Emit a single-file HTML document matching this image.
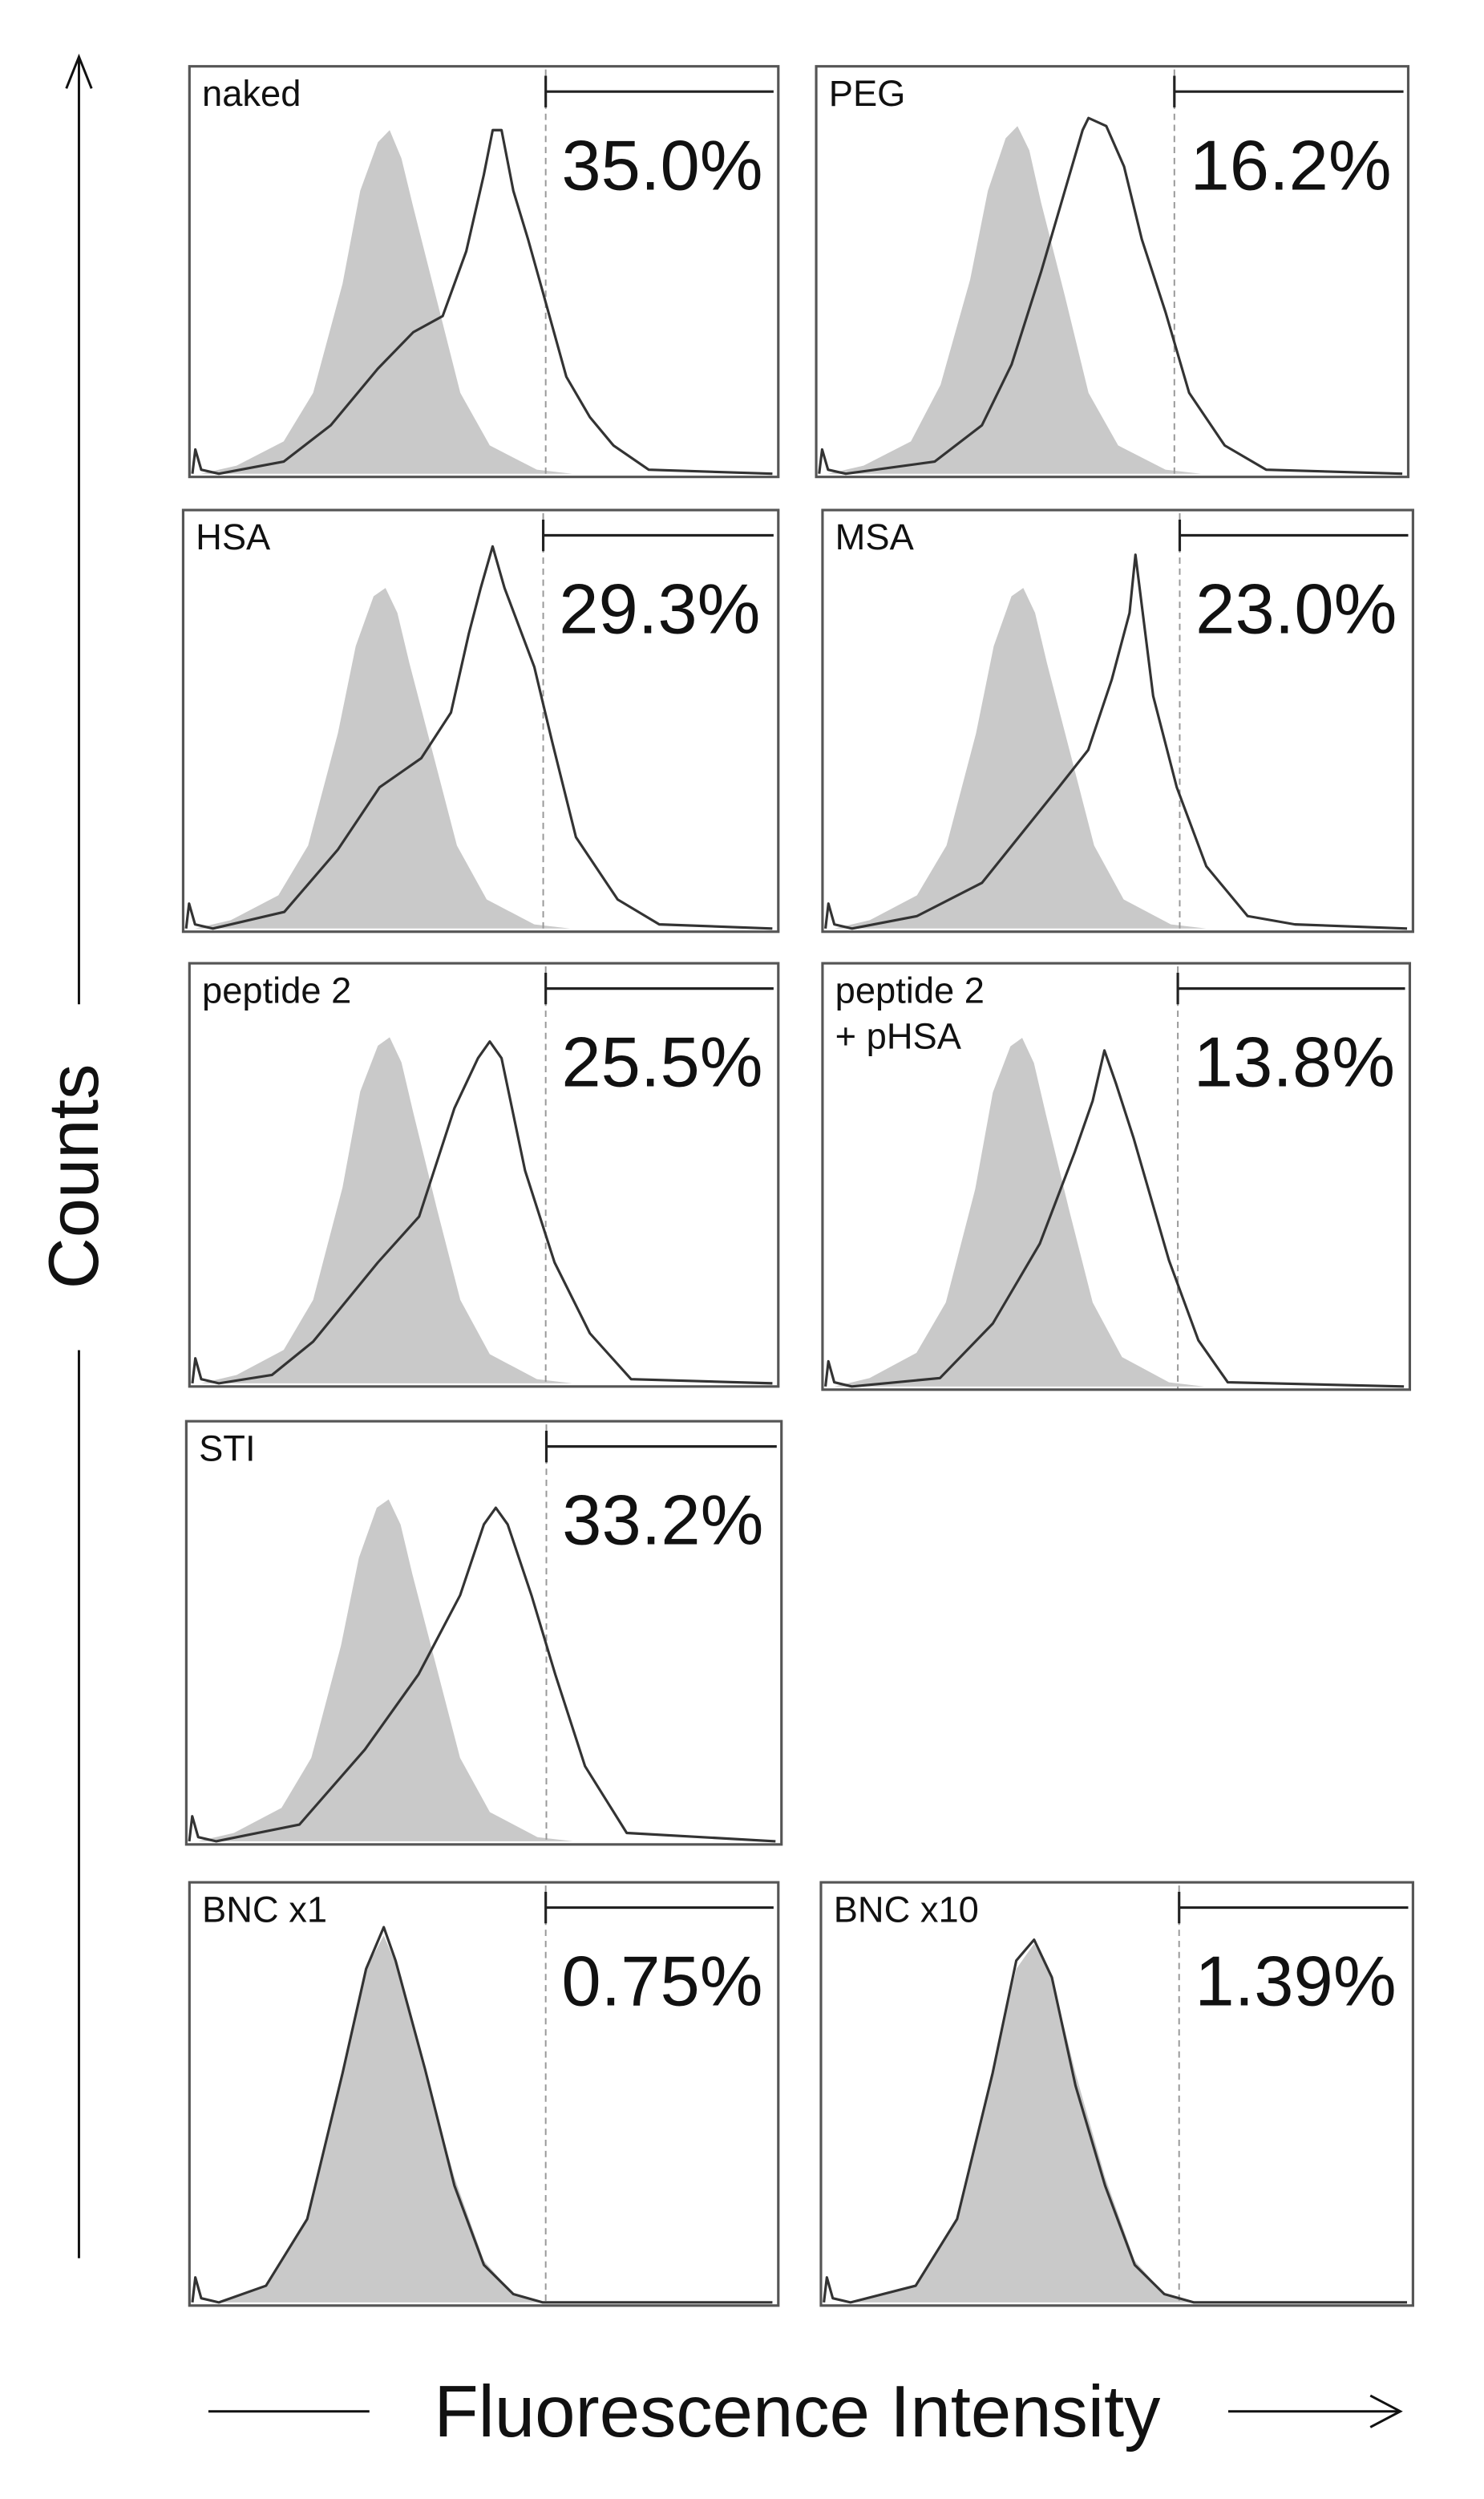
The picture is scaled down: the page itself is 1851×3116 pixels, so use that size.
<!DOCTYPE html>
<html><head><meta charset="utf-8"><style>
html,body{margin:0;padding:0;background:#fff;}
svg{display:block;font-family:"Liberation Sans",Arial,sans-serif;}
</style></head><body>
<svg id="fig" width="1851" height="3116" viewBox="0 0 940 1582.5" preserveAspectRatio="none" xmlns="http://www.w3.org/2000/svg">
<g>
<line x1="50" y1="36" x2="50" y2="636" stroke="#111" stroke-width="1.5"/>
<polyline points="42,56 50,36 58,56" fill="none" stroke="#111" stroke-width="1.5"/>
<line x1="50" y1="855" x2="50" y2="1430" stroke="#111" stroke-width="1.5"/>
<text transform="translate(62,745) rotate(-90)" text-anchor="middle" font-size="45" fill="#111">Counts</text>
</g>
<g>
<line x1="132" y1="1527" x2="234" y2="1527" stroke="#111" stroke-width="1.5"/>
<line x1="778" y1="1527" x2="886" y2="1527" stroke="#111" stroke-width="1.5"/>
<polyline points="868,1517 887,1527 868,1537" fill="none" stroke="#111" stroke-width="1.5"/>
<text x="505" y="1543" text-anchor="middle" font-size="46" fill="#111">Fluorescence Intensity</text>
</g>
</svg>
<script>
// Panel labels and gate percentages
const panelNames = ["naked","PEG","HSA","MSA","peptide 2","peptide 2|+ pHSA","STI","BNC x1","BNC x10"];
const gatePercents = ["35.0%","16.2%","29.3%","23.0%","25.5%","13.8%","33.2%","0.75%","1.39%"];
const gateThreshold = 0.605;
// Control histograms (gray fill): [fluorescence fraction, count fraction]
const controlNaked = [[0.02,0],[0.08,0.02],[0.16,0.08],[0.21,0.2],[0.26,0.47],[0.29,0.7],[0.32,0.82],[0.34,0.85],[0.36,0.78],[0.38,0.66],[0.42,0.43],[0.46,0.2],[0.51,0.07],[0.59,0.01],[0.65,0]];
const controlPEG = [[0.02,0],[0.08,0.02],[0.16,0.08],[0.21,0.22],[0.26,0.48],[0.29,0.7],[0.32,0.83],[0.34,0.86],[0.36,0.8],[0.38,0.67],[0.42,0.44],[0.46,0.2],[0.51,0.07],[0.59,0.01],[0.65,0]];
const controlHSA = [[0.02,0],[0.08,0.02],[0.16,0.08],[0.21,0.2],[0.26,0.47],[0.29,0.68],[0.32,0.8],[0.34,0.82],[0.36,0.76],[0.38,0.64],[0.42,0.42],[0.46,0.2],[0.51,0.07],[0.59,0.01],[0.65,0]];
const controlMSA = controlHSA;
const controlPep = [[0.02,0],[0.08,0.02],[0.16,0.08],[0.21,0.2],[0.26,0.47],[0.29,0.7],[0.32,0.81],[0.34,0.83],[0.36,0.77],[0.38,0.65],[0.42,0.42],[0.46,0.2],[0.51,0.07],[0.59,0.01],[0.65,0]];
const controlPepHSA = controlPep;
const controlSTI = controlHSA;
const controlBNC1 = [[0.05,0],[0.13,0.04],[0.2,0.2],[0.26,0.55],[0.3,0.8],[0.33,0.88],[0.36,0.78],[0.4,0.55],[0.45,0.3],[0.5,0.1],[0.55,0.02],[0.6,0]];
const controlBNC10 = [[0.05,0],[0.16,0.04],[0.23,0.2],[0.29,0.55],[0.33,0.8],[0.36,0.86],[0.39,0.78],[0.43,0.55],[0.48,0.3],[0.53,0.1],[0.58,0.02],[0.63,0]];
// Sample histograms (open line)
const sampleNaked = [[0.05,0],[0.16,0.03],[0.24,0.12],[0.32,0.26],[0.38,0.35],[0.43,0.39],[0.47,0.55],[0.5,0.74],[0.515,0.85],[0.53,0.85],[0.55,0.7],[0.575,0.58],[0.6,0.45],[0.64,0.24],[0.68,0.14],[0.72,0.07],[0.78,0.01],[0.99,0]];
const samplePEG = [[0.05,0],[0.2,0.03],[0.28,0.12],[0.33,0.27],[0.38,0.5],[0.42,0.7],[0.45,0.85],[0.46,0.88],[0.49,0.86],[0.52,0.76],[0.55,0.58],[0.59,0.4],[0.63,0.2],[0.69,0.07],[0.76,0.01],[0.99,0]];
const sampleHSA = [[0.05,0],[0.17,0.04],[0.26,0.19],[0.33,0.34],[0.4,0.41],[0.45,0.52],[0.48,0.71],[0.5,0.82],[0.52,0.92],[0.54,0.82],[0.59,0.63],[0.62,0.45],[0.66,0.22],[0.73,0.07],[0.8,0.01],[0.99,0]];
const sampleMSA = [[0.05,0],[0.16,0.03],[0.27,0.11],[0.4,0.34],[0.45,0.43],[0.49,0.6],[0.52,0.76],[0.53,0.9],[0.56,0.56],[0.6,0.34],[0.65,0.15],[0.72,0.03],[0.8,0.01],[0.99,0]];
const samplePep = [[0.05,0],[0.14,0.02],[0.21,0.1],[0.32,0.29],[0.39,0.4],[0.45,0.66],[0.49,0.78],[0.51,0.82],[0.53,0.78],[0.57,0.51],[0.62,0.29],[0.68,0.12],[0.75,0.01],[0.99,0]];
const samplePepHSA = [[0.05,0],[0.2,0.02],[0.29,0.15],[0.37,0.34],[0.43,0.56],[0.46,0.68],[0.48,0.8],[0.5,0.72],[0.53,0.59],[0.59,0.3],[0.64,0.11],[0.69,0.01],[0.99,0]];
const sampleSTI = [[0.05,0],[0.19,0.04],[0.3,0.22],[0.39,0.4],[0.46,0.59],[0.5,0.76],[0.52,0.8],[0.54,0.76],[0.58,0.59],[0.62,0.4],[0.67,0.18],[0.74,0.02],[0.99,0]];
const sampleBNC1 = [[0.05,0],[0.13,0.04],[0.2,0.2],[0.26,0.55],[0.3,0.8],[0.33,0.9],[0.35,0.82],[0.4,0.56],[0.45,0.28],[0.5,0.09],[0.55,0.02],[0.6,0],[0.99,0]];
const sampleBNC10 = [[0.05,0],[0.16,0.04],[0.23,0.2],[0.29,0.55],[0.33,0.82],[0.36,0.87],[0.39,0.78],[0.43,0.52],[0.48,0.28],[0.53,0.09],[0.58,0.02],[0.63,0],[0.99,0]];
const controls = [controlNaked,controlPEG,controlHSA,controlMSA,controlPep,controlPepHSA,controlSTI,controlBNC1,controlBNC10];
const samples = [sampleNaked,samplePEG,sampleHSA,sampleMSA,samplePep,samplePepHSA,sampleSTI,sampleBNC1,sampleBNC10];
// layout boxes (display units)
const boxes = [[120,42,373,260],[517,42,375,260],[116,323,377,267],[521,323,374,267],[120,610,373,268],[521,610,372,270],[118,900,377,268],[120,1192,373,268],[520,1192,375,268]];

const NS="http://www.w3.org/2000/svg";
const svg=document.getElementById('fig');
function mk(tag,attrs){const e=document.createElementNS(NS,tag);for(const k in attrs)e.setAttribute(k,attrs[k]);return e;}
boxes.forEach((b,i)=>{
  const [L,T,W,H]=b;
  const xs=v=>L+v*W, ys=c=>T+H-2-c*(H-4);
  const g=mk('g',{});
  
  
  svg.appendChild(g);
  let d='M'+xs(controls[i][0][0])+','+ys(0);
  controls[i].forEach(p=>{d+=' L'+xs(p[0])+','+ys(p[1]);});
  d+=' L'+xs(controls[i][controls[i].length-1][0])+','+ys(0)+' Z';
  const fill=mk('path',{d:d,fill:'#c9c9c9',stroke:'none'});
  
  
  g.appendChild(fill);
  const gx=xs(gateThreshold);
  const dash=mk('line',{x1:gx,y1:T+2,x2:gx,y2:T+H,stroke:'#999','stroke-width':1,'stroke-dasharray':'4,3'});
  
  
  g.appendChild(dash);
  let pts=[[xs(0.005),ys(0)],[xs(0.01),ys(0.06)],[xs(0.02),ys(0.01)]];
  samples[i].forEach(p=>pts.push([xs(p[0]),ys(p[1])]));
  const line=mk('polyline',{points:pts.map(p=>p.join(',')).join(' '),fill:'none',stroke:'#333','stroke-width':1.6,'stroke-linejoin':'round'});
  
  
  g.appendChild(line);
  const frame=mk('rect',{x:L,y:T,width:W,height:H,fill:'none',stroke:'#555','stroke-width':1.6});
  
  
  g.appendChild(frame);
  const bar=mk('path',{d:'M'+gx+','+(T+6)+' L'+gx+','+(T+26)+' M'+gx+','+(T+16)+' L'+(L+W-3)+','+(T+16),stroke:'#222','stroke-width':1.6,fill:'none'});
  
  
  g.appendChild(bar);
  const lines=panelNames[i].split('|');
  lines.forEach((s,j)=>{
    const t=mk('text',{x:L+8,y:T+25+j*29,'font-size':23,fill:'#111'});
    t.textContent=s;
    
    
    g.appendChild(t);
  });
  const pt=mk('text',{x:gx+10,y:T+78,'font-size':gatePercents[i].length>5?44:45,fill:'#111'});
  pt.textContent=gatePercents[i];
  
  
  g.appendChild(pt);
});
</script>
</body></html>
